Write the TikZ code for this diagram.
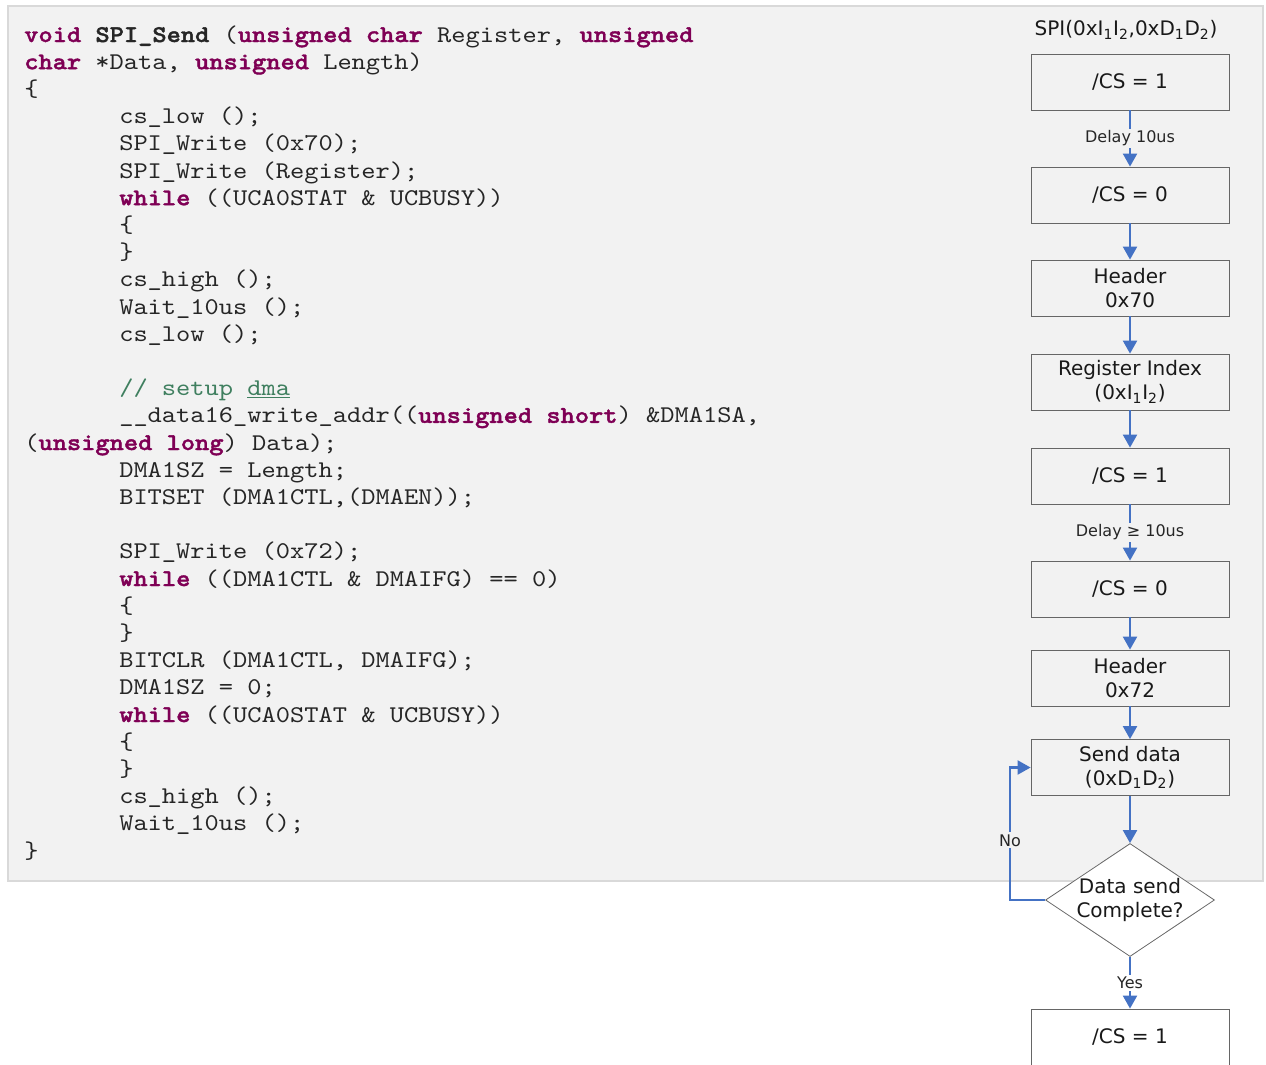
\documentclass[tikz,border=0pt]{standalone}
\usepackage{fontspec}
\usepackage{xcolor}
\usepackage{tikz}
\usetikzlibrary{shapes.geometric,arrows.meta}
\setmainfont{DejaVu Sans}
\newfontfamily\codefont{lmmono10-regular.otf}[BoldFont=lmmonolt10-bold.otf,BoldFeatures={FakeBold=1.6},FakeStretch=1.13,WordSpace={1,0,0}]
\definecolor{kwpurple}{HTML}{7F0055}
\definecolor{cmtgreen}{HTML}{3F7F5F}
\definecolor{panelgray}{HTML}{F2F2F2}
\definecolor{panelline}{HTML}{D9D9D9}
\definecolor{flowblue}{HTML}{4472C4}
\newcommand{\kw}[1]{\textcolor{kwpurple}{\textbf{#1}}}
\newcommand{\cmt}[1]{\textcolor{cmtgreen}{#1}}

\begin{document}
\begin{tikzpicture}[x=0.75pt,y=-0.75pt]
		\useasboundingbox (0,0) rectangle (1266,1064);
		\draw[panelline,fill=panelgray,line width=1.125pt] (8,6) rectangle (1263,881);
		\tikzstyle{every node}+=[inner sep=0pt]
		\tikzstyle{code}=[anchor=base west,text=black!85,font=\codefont\fontsize{18}{20.4}\selectfont]
		% code listing, one node per line
		\node[code] (l1) at (24,42)  {\kw{void} \textbf{SPI\_Send} (\kw{unsigned char} Register, \kw{unsigned}};
		\node[code] (l2) at (24,69.2)  {\kw{char} *Data, \kw{unsigned} Length)};
		\node[code] (l3) at (24,96.4)  {\{};
		\node[code] (l4) at (119,123.6)  {cs\_low ();};
		\node[code] (l5) at (119,150.8)  {SPI\_Write (0x70);};
		\node[code] (l6) at (119,178)  {SPI\_Write (Register);};
		\node[code] (l7) at (119,205.2)  {\kw{while} ((UCA0STAT \& UCBUSY))};
		\node[code] (l8) at (119,232.4)  {\{};
		\node[code] (l9) at (119,259.6)  {\}};
		\node[code] (l10) at (119,286.8)  {cs\_high ();};
		\node[code] (l11) at (119,314)  {Wait\_10us ();};
		\node[code] (l12) at (119,341.2)  {cs\_low ();};
		\node[code] (l14) at (119,395.6)  {\cmt{// setup \underline{dma}}};
		\node[code] (l15) at (119,422.8)  {\_\_data16\_write\_addr((\kw{unsigned short}) \&DMA1SA,};
		\node[code] (l16) at (24,450)  {(\kw{unsigned long}) Data);};
		\node[code] (l17) at (119,477.2)  {DMA1SZ = Length;};
		\node[code] (l18) at (119,504.4)  {BITSET (DMA1CTL,(DMAEN));};
		\node[code] (l20) at (119,558.8)  {SPI\_Write (0x72);};
		\node[code] (l21) at (119,586)  {\kw{while} ((DMA1CTL \& DMAIFG) == 0)};
		\node[code] (l22) at (119,613.2)  {\{};
		\node[code] (l23) at (119,640.4)  {\}};
		\node[code] (l24) at (119,667.6)  {BITCLR (DMA1CTL, DMAIFG);};
		\node[code] (l25) at (119,694.8)  {DMA1SZ = 0;};
		\node[code] (l26) at (119,722)  {\kw{while} ((UCA0STAT \& UCBUSY))};
		\node[code] (l27) at (119,749.2)  {\{};
		\node[code] (l28) at (119,776.4)  {\}};
		\node[code] (l29) at (119,803.6)  {cs\_high ();};
		\node[code] (l30) at (119,830.8)  {Wait\_10us ();};
		\node[code] (l31) at (24,858)  {\}};
		% flow chart
		\tikzstyle{flowbox}=[draw=black!60,line width=0.6pt,minimum width=148.5pt,minimum height=42pt,align=center,text=black!90,font=\fontsize{15}{18}\selectfont]
		\tikzstyle{flowlabel}=[fill=panelgray,inner sep=1.5pt,text=black!85,font=\fontsize{12}{14}\selectfont]
		\node[text=black!90,font=\fontsize{15}{18}\selectfont] (title) at (1126,30) {SPI(0xI\textsubscript{1}I\textsubscript{2},0xD\textsubscript{1}D\textsubscript{2})};
		\node[flowbox] (csa) at (1130,82)  {/CS = 1};
		\node[flowbox] (csb) at (1130,195)  {/CS = 0};
		\node[flowbox] (hdra) at (1130,288)  {Header\\0x70};
		\node[flowbox] (reg) at (1130,382)  {Register Index\\(0xI\textsubscript{1}I\textsubscript{2})};
		\node[flowbox] (csc) at (1130,476)  {/CS = 1};
		\node[flowbox] (csd) at (1130,589)  {/CS = 0};
		\node[flowbox] (hdrb) at (1130,678)  {Header\\0x72};
		\node[flowbox] (send) at (1130,767.5)  {Send data\\(0xD\textsubscript{1}D\textsubscript{2})};
		\node[diamond,aspect=1.5,draw=black!60,line width=0.6pt,fill=white,minimum width=126.75pt,minimum height=84.75pt,inner sep=-4pt,align=center,text=black!90,font=\fontsize{15}{18}\selectfont] (done) at (1130,900) {Data send\\Complete?};
		\node[flowbox] (cse) at (1130,1037)  {/CS = 1};
		\coordinate (loop) at (1010,767.5);
		\tikzstyle{every path}+=[flowblue,line width=1.6pt,-{Triangle[width=10.5pt,length=9.75pt]}]
		\draw (csa) -- node[flowlabel] {Delay 10us} (csb);
		\draw (csb) -- (hdra);
		\draw (hdra) -- (reg);
		\draw (reg) -- (csc);
		\draw (csc) -- node[flowlabel] {Delay ≥ 10us} (csd);
		\draw (csd) -- (hdrb);
		\draw (hdrb) -- (send);
		\draw (send) -- (done);
		\draw (done.west) -| node[flowlabel,pos=0.725] {No} (loop) -- (send.west);
		\draw (done) -- node[flowlabel,fill=white] {Yes} (cse);
		\end{tikzpicture}
\end{document}
